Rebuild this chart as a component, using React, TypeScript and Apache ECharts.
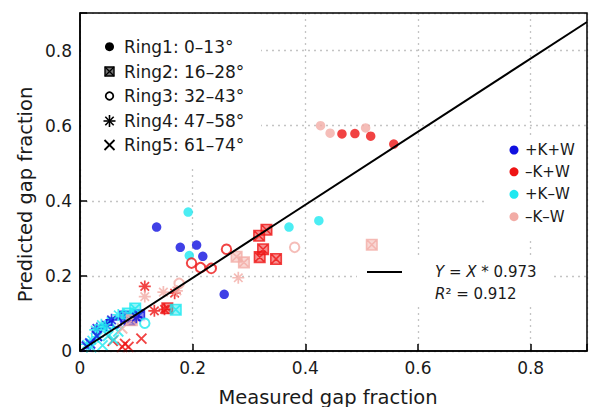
import React, { useEffect, useRef } from 'react';
import * as echarts from 'echarts';

// ---------- data ----------
const TREATMENTS = ['+K+W', '–K+W', '+K–W', '–K–W'];
const TREATMENT_COLORS = ['#1010e0', '#ee1414', '#1ee8f0', '#f2aca6'];
const RING_LABELS = ['Ring1: 0–13°', 'Ring2: 16–28°', 'Ring3: 32–43°', 'Ring4: 47–58°', 'Ring5: 61–74°'];

// +K+W (blue)
const pkpwRing1 = [[0.136, 0.330], [0.178, 0.276], [0.207, 0.282], [0.218, 0.252], [0.256, 0.151]];
const pkpwRing2 = [[0.080, 0.092], [0.088, 0.083], [0.105, 0.095]];
const pkpwRing3 = [[0.065, 0.075]];
const pkpwRing4 = [[0.047, 0.069], [0.056, 0.083], [0.030, 0.060], [0.100, 0.090]];
const pkpwRing5 = [[0.012, 0.012], [0.018, 0.020], [0.030, 0.040]];
// -K+W (red)
const mkpwRing1 = [[0.465, 0.578], [0.488, 0.579], [0.516, 0.572], [0.557, 0.551]];
const mkpwRing2 = [[0.318, 0.307], [0.331, 0.323], [0.325, 0.271], [0.319, 0.250], [0.348, 0.245], [0.155, 0.114]];
const mkpwRing3 = [[0.198, 0.234], [0.214, 0.222], [0.233, 0.220], [0.260, 0.271]];
const mkpwRing4 = [[0.115, 0.172], [0.168, 0.154], [0.132, 0.107], [0.150, 0.111]];
const mkpwRing5 = [[0.058, 0.027], [0.075, 0.011], [0.086, 0.011], [0.080, 0.019], [0.109, 0.033]];
// +K-W (cyan)
const pkmwRing1 = [[0.192, 0.370], [0.194, 0.254], [0.371, 0.330], [0.424, 0.347]];
const pkmwRing2 = [[0.170, 0.110], [0.098, 0.113], [0.085, 0.100], [0.058, 0.075]];
const pkmwRing3 = [[0.115, 0.074], [0.050, 0.065]];
const pkmwRing4 = [[0.027, 0.056], [0.032, 0.038], [0.021, 0.029], [0.045, 0.062], [0.068, 0.096], [0.012, 0.018], [0.038, 0.070]];
const pkmwRing5 = [[0.060, 0.030], [0.040, 0.015], [0.068, 0.052], [0.050, 0.040], [0.020, 0.010]];
// -K-W (pink)
const mkmwRing1 = [[0.427, 0.600], [0.444, 0.580], [0.507, 0.594]];
const mkmwRing2 = [[0.278, 0.251], [0.291, 0.236], [0.518, 0.283], [0.092, 0.082]];
const mkmwRing3 = [[0.381, 0.276], [0.176, 0.180]];
const mkmwRing4 = [[0.281, 0.195], [0.148, 0.157], [0.115, 0.145], [0.172, 0.160]];
const mkmwRing5 = [[0.075, 0.060]];

const FIT_SLOPE_TEXT = '0.973';
const R2_TEXT = '0.912';
const fitLine = [[0, 0], [0.9, 0.876]];

// table built from arrays: [ring][treatment]
const TABLE = [
  [pkpwRing1, mkpwRing1, pkmwRing1, mkmwRing1],
  [pkpwRing2, mkpwRing2, pkmwRing2, mkmwRing2],
  [pkpwRing3, mkpwRing3, pkmwRing3, mkmwRing3],
  [pkpwRing4, mkpwRing4, pkmwRing4, mkmwRing4],
  [pkpwRing5, mkpwRing5, pkmwRing5, mkmwRing5],
];

// ---------- styles ----------
const FONT = 'DejaVu Sans';
const SYM_BOX = 'path://M0,0L20,0L20,20L0,20ZM0,0L20,20M20,0L0,20';
const SYM_STAR = 'path://M10,0L10,20M0,10L20,10M2.93,2.93L17.07,17.07M17.07,2.93L2.93,17.07';
const SYM_X = 'path://M0,0L20,20M20,0L0,20';

function rgba(hex: string, a: number) {
  const n = parseInt(hex.slice(1), 16);
  return `rgba(${(n >> 16) & 255},${(n >> 8) & 255},${n & 255},${a})`;
}

function ringStyle(ring: number, c: string) {
  switch (ring) {
    case 0: return { symbol: 'circle', symbolSize: 9.5, itemStyle: { color: c } };
    case 1: return { symbol: SYM_BOX, symbolSize: 10.5, itemStyle: { color: rgba(c, 0.6), borderColor: c, borderWidth: 1.6 } };
    case 2: return { symbol: 'emptyCircle', symbolSize: 9.5, itemStyle: { color: c, borderWidth: 1.9 } };
    case 3: return { symbol: SYM_STAR, symbolSize: 12, itemStyle: { color: c, borderColor: c, borderWidth: 1.7 } };
    default: return { symbol: SYM_X, symbolSize: 10, itemStyle: { color: c, borderColor: c, borderWidth: 1.9 } };
  }
}

const GRID = { left: 80, top: 13, width: 507, height: 338 };
const hideMax = (v: number) => (Math.abs(v - 0.9) < 1e-6 ? '' : String(v));

function buildOption() {
  const series: any[] = [];
  TABLE.forEach((row, r) => {
    row.forEach((pts, t) => {
      series.push({
        type: 'scatter',
        name: `${RING_LABELS[r].split(':')[0]} ${TREATMENTS[t]}`,
        data: pts,
        z: 2,
        ...ringStyle(r, TREATMENT_COLORS[t]),
      });
    });
  });
  series.push({
    type: 'line',
    name: 'fit',
    data: fitLine,
    showSymbol: false,
    lineStyle: { color: '#000', width: 2 },
    z: 4,
  });

  const graphics: any[] = [];
  // white legend backgrounds
  graphics.push({ type: 'rect', shape: { x: 81, y: 14, width: 180, height: 153 }, style: { fill: '#fff' }, z: 5 });
  graphics.push({ type: 'rect', shape: { x: 487, y: 138, width: 99, height: 100 }, style: { fill: '#fff' }, z: 5 });
  graphics.push({ type: 'rect', shape: { x: 357, y: 258, width: 196, height: 48 }, style: { fill: '#fff' }, z: 5 });
  // plot frame on top
  graphics.push({ type: 'rect', shape: { x: GRID.left, y: GRID.top, width: GRID.width, height: GRID.height }, style: { fill: 'none', stroke: '#000', lineWidth: 1.5 }, z: 10 });

  // ring legend
  const ringRows = [46.7, 71.5, 96, 121, 145];
  const mx = 109.5;
  ringRows.forEach((y, i) => {
    graphics.push({
      type: 'text', x: 124, y, z: 6,
      style: { text: RING_LABELS[i], font: `17px "${FONT}"`, fill: '#1a1a1a', verticalAlign: 'middle', align: 'left' },
    });
  });
  const stroke = { stroke: '#000', lineWidth: 1.6 };
  graphics.push({ type: 'circle', shape: { cx: mx, cy: ringRows[0], r: 4.5 }, style: { fill: '#000' }, z: 6 });
  graphics.push({ type: 'rect', shape: { x: mx - 4.5, y: ringRows[1] - 4.5, width: 9, height: 9 }, style: { fill: 'rgba(0,0,0,0.55)', stroke: '#000', lineWidth: 1.4 }, z: 6 });
  graphics.push({ type: 'line', shape: { x1: mx - 4.5, y1: ringRows[1] - 4.5, x2: mx + 4.5, y2: ringRows[1] + 4.5 }, style: { stroke: '#000', lineWidth: 1.2 }, z: 6 });
  graphics.push({ type: 'line', shape: { x1: mx + 4.5, y1: ringRows[1] - 4.5, x2: mx - 4.5, y2: ringRows[1] + 4.5 }, style: { stroke: '#000', lineWidth: 1.2 }, z: 6 });
  graphics.push({ type: 'circle', shape: { cx: mx, cy: ringRows[2], r: 3.8 }, style: { fill: '#fff', stroke: '#000', lineWidth: 1.8 }, z: 6 });
  const sy = ringRows[3];
  graphics.push({ type: 'line', shape: { x1: mx - 6, y1: sy, x2: mx + 6, y2: sy }, style: stroke, z: 6 });
  graphics.push({ type: 'line', shape: { x1: mx, y1: sy - 6, x2: mx, y2: sy + 6 }, style: stroke, z: 6 });
  graphics.push({ type: 'line', shape: { x1: mx - 4.2, y1: sy - 4.2, x2: mx + 4.2, y2: sy + 4.2 }, style: stroke, z: 6 });
  graphics.push({ type: 'line', shape: { x1: mx + 4.2, y1: sy - 4.2, x2: mx - 4.2, y2: sy + 4.2 }, style: stroke, z: 6 });
  const xy = ringRows[4];
  graphics.push({ type: 'line', shape: { x1: mx - 5, y1: xy - 5, x2: mx + 5, y2: xy + 5 }, style: { stroke: '#000', lineWidth: 1.8 }, z: 6 });
  graphics.push({ type: 'line', shape: { x1: mx + 5, y1: xy - 5, x2: mx - 5, y2: xy + 5 }, style: { stroke: '#000', lineWidth: 1.8 }, z: 6 });

  // treatment legend
  const tRows = [150, 171.8, 194.3, 216.7];
  tRows.forEach((y, i) => {
    graphics.push({ type: 'circle', shape: { cx: 514, cy: y, r: 4.5 }, style: { fill: TREATMENT_COLORS[i] }, z: 6 });
    graphics.push({
      type: 'text', x: 525, y, z: 6,
      style: { text: TREATMENTS[i], font: `15px "${FONT}"`, fill: '#1a1a1a', verticalAlign: 'middle', align: 'left' },
    });
  });

  // fit legend
  graphics.push({ type: 'line', shape: { x1: 367, y1: 272, x2: 402, y2: 272 }, style: { stroke: '#000', lineWidth: 2 }, z: 6 });
  graphics.push({
    type: 'text', x: 435, y: 272, z: 6,
    style: {
      text: `{i|Y} = {i|X} * ${FIT_SLOPE_TEXT}`,
      font: `15px "${FONT}"`, fill: '#1a1a1a', verticalAlign: 'middle', align: 'left',
      rich: { i: { fontStyle: 'italic', fontFamily: FONT, fontSize: 15, fill: '#1a1a1a' } },
    },
  });
  graphics.push({
    type: 'text', x: 435, y: 293.5, z: 6,
    style: {
      text: `{i|R}² = ${R2_TEXT}`,
      font: `15px "${FONT}"`, fill: '#1a1a1a', verticalAlign: 'middle', align: 'left',
      rich: { i: { fontStyle: 'italic', fontFamily: FONT, fontSize: 15, fill: '#1a1a1a' } },
    },
  });

  // axis titles
  graphics.push({
    type: 'text', x: 328, y: 397, z: 6,
    style: { text: 'Measured gap fraction', font: `19.5px "${FONT}"`, fill: '#1a1a1a', align: 'center', verticalAlign: 'middle' },
  });
  graphics.push({
    type: 'text', x: 25, y: 194.5, rotation: Math.PI / 2, z: 6,
    style: { text: 'Predicted gap fraction', font: `19.5px "${FONT}"`, fill: '#1a1a1a', align: 'center', verticalAlign: 'middle' },
  });

  const axisCommon = {
    type: 'value',
    min: 0,
    max: 0.9,
    interval: 0.2,
    axisLine: { show: true, onZero: false, lineStyle: { color: '#000', width: 1.5 } },
    axisTick: { show: true, inside: true, length: 7, lineStyle: { color: '#000', width: 1.5 } },
    axisLabel: { formatter: hideMax, fontFamily: FONT, fontSize: 17, color: '#1a1a1a', margin: 8 },
    splitLine: { show: true, lineStyle: { color: '#c4c4c4', type: [2, 4], width: 1.3 } },
  };

  return {
    animation: false,
    backgroundColor: '#fff',
    grid: { ...GRID, show: false, containLabel: false },
    xAxis: { ...axisCommon },
    yAxis: { ...axisCommon },
    series,
    graphic: { elements: graphics },
  };
}

export default function App() {
  const ref = useRef<HTMLDivElement>(null);
  useEffect(() => {
    const chart = echarts.init(ref.current!, null, { renderer: 'svg' });
    chart.setOption(buildOption() as any);
    return () => chart.dispose();
  }, []);
  return (
    <div
      ref={ref}
      style={{ position: 'absolute', left: 0, top: 0, width: 590, height: 407, background: '#fff' }}
    />
  );
}
